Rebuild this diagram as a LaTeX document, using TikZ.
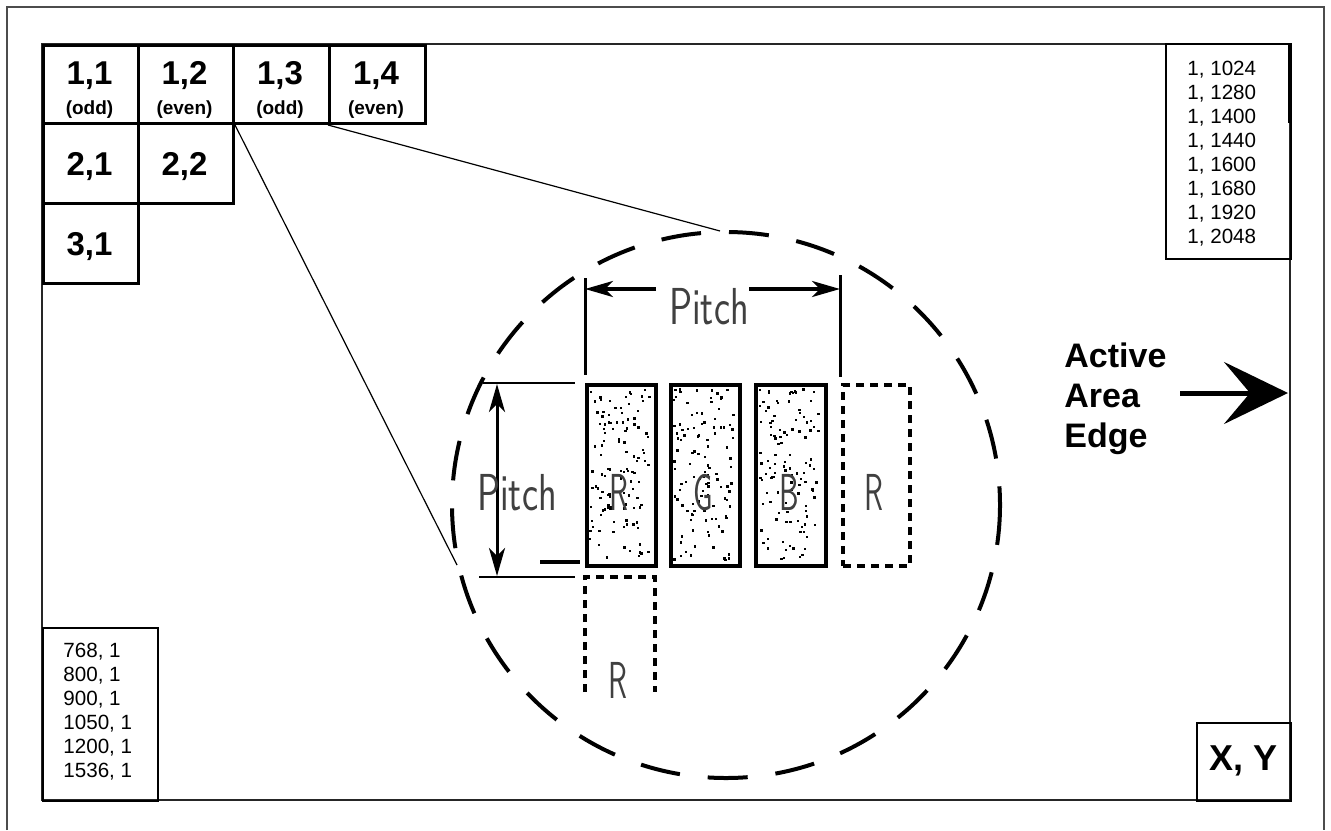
\documentclass[tikz,border=0pt]{standalone}
\usepackage{fontspec}
\setmainfont{Liberation Sans}
\usepackage{graphicx}
\usetikzlibrary{arrows.meta}
\newcommand\cadtxt[1]{\scalebox{0.74}[1]{#1}}
\newcommand\cadltr[1]{\scalebox{0.6}[1]{#1}}
\begin{document}
\begin{tikzpicture}[x=0.5pt,y=-0.5pt,
  frame/.style={draw=black!70, line width=0.6pt},
  active/.style={draw=black!85, line width=0.8pt},
  cellbox/.style={draw, line width=1.5pt, inner sep=0pt, anchor=north west},
  celltxt/.style={font=\bfseries\fontsize{16.5}{18}\selectfont, inner sep=0pt, anchor=base},
  subtxt/.style={font=\bfseries\fontsize{9.5}{11}\selectfont, inner sep=0pt, anchor=base},
  listtxt/.style={font=\fontsize{10.3}{12}\selectfont, align=left, inner sep=0pt, anchor=north west},
  edgetxt/.style={font=\bfseries\fontsize{17}{20}\selectfont, align=left, inner sep=0pt, anchor=north west},
  cad/.style={font=\sffamily\fontsize{26}{28}\selectfont, inner sep=0pt, anchor=base, text=black!75},
  subpix/.style={draw, line width=2pt},
  subdash/.style={draw, line width=2pt, dash pattern=on 4pt off 3pt},
  dimtip/.style={-{Stealth[length=14pt,width=8pt,inset=4pt]}},
  ext/.style={line width=1.5pt},
  zoomcircle/.style={draw, line width=2pt, dash pattern=on 20pt off 14pt},
  leader/.style={line width=0.6pt}
]
\useasboundingbox (0,0) rectangle (1331,830);

% frames
\draw[frame] (7,830) -- (7,7) -- (1324,7) -- (1324,830);
\draw[active] (42,44) rectangle (1290,800);

% pixel cells
\node[cellbox, minimum width=47.5pt, minimum height=39pt] (c11) at (42,44) {};
\node[cellbox, minimum width=47.5pt, minimum height=39pt] (c12) at (137,44) {};
\node[cellbox, minimum width=48pt, minimum height=39pt] (c13) at (232,44) {};
\node[cellbox, minimum width=48pt, minimum height=39pt] (c14) at (328,44) {};
\node[cellbox, minimum width=47.5pt, minimum height=40pt] (c21) at (42,122) {};
\node[cellbox, minimum width=47.5pt, minimum height=40pt] (c22) at (137,122) {};
\node[cellbox, minimum width=47.5pt, minimum height=40pt] (c31) at (42,202) {};

\node[celltxt] (t11) at (89.5,84) {1,1};
\node[celltxt] (t12) at (184.5,84) {1,2};
\node[celltxt] (t13) at (280,84) {1,3};
\node[celltxt] (t14) at (376,84) {1,4};
\node[subtxt] (s11) at (89.5,114) {(odd)};
\node[subtxt] (s12) at (184.5,114) {(even)};
\node[subtxt] (s13) at (280,114) {(odd)};
\node[subtxt] (s14) at (376,114) {(even)};
\node[celltxt] (t21) at (89.5,175) {2,1};
\node[celltxt] (t22) at (184.5,175) {2,2};
\node[celltxt] (t31) at (89.5,255) {3,1};

% resolution lists
\node[draw, line width=1pt, minimum width=62.5pt, minimum height=107.5pt, anchor=north west, inner sep=0pt] (tr) at (1165,43) {};
\draw[line width=2pt] (1290,43) -- (1290,123);
\node[listtxt] (trl) at (1187,61) {1, 1024\\1, 1280\\1, 1400\\1, 1440\\1, 1600\\1, 1680\\1, 1920\\1, 2048};

\node[draw, line width=1.2pt, minimum width=57.5pt, minimum height=86.5pt, anchor=north west, inner sep=0pt] (bl) at (42,627) {};
\node[listtxt] (bll) at (63,643) {768, 1\\800, 1\\900, 1\\1050, 1\\1200, 1\\1536, 1};

\node[draw, line width=1.2pt, minimum width=47pt, minimum height=39pt, anchor=north west, inner sep=0pt] (xy) at (1196,722) {};
\node[font=\bfseries\fontsize{18}{20}\selectfont, inner sep=0pt, anchor=base] (xyt) at (1243,770) {X, Y};

% active area edge
\node[edgetxt] (aae) at (1064,342) {Active\\Area\\Edge};
\coordinate (arrS) at (1180,393);
\coordinate (arrE) at (1288,393);
\draw[line width=2.5pt, -{Stealth[length=32pt,width=31pt,inset=13pt]}] (arrS) -- (arrE);

% zoom circle and leaders
\draw[zoomcircle] (726,505) ellipse [x radius=274, y radius=273];
\coordinate (circL) at (457,565);
\coordinate (circT) at (720,231);
\draw[leader] (c12.south east) -- (circL);
\draw[leader] (c14.south west) -- (circT);

% subpixel stipple
\pgfmathsetseed{11}
\foreach \bx in {585,669,754}{
  \foreach \k in {1,...,115}{
    \pgfmathsetmacro\px{\bx+4+rnd*60}
    \pgfmathsetmacro\py{388+rnd*171}
    \fill (\px,\py) rectangle ++(2.4,2.4);
  }
}
% subpixels
\node[subpix, minimum width=34.5pt, minimum height=90.5pt, anchor=north west, inner sep=0pt] (pR) at (585,383) {};
\node[subpix, minimum width=34.5pt, minimum height=90.5pt, anchor=north west, inner sep=0pt] (pG) at (669,383) {};
\node[subpix, minimum width=35pt, minimum height=90.5pt, anchor=north west, inner sep=0pt] (pB) at (754,383) {};
\node[subdash, minimum width=33.5pt, minimum height=90.5pt, anchor=north west, inner sep=0pt] (pR2) at (841,383) {};
\draw[subdash] (585,692) -- (585,577) -- (655,577) -- (655,692);

\node[cad] (lR) at (619,510) {\cadltr{R}};
\node[cad] (lG) at (703,510) {\cadltr{G}};
\node[cad] (lB) at (789,510) {\cadltr{B}};
\node[cad] (lR2) at (874,510) {\cadltr{R}};
\node[cad] (lR3) at (618,698) {\cadltr{R}};

% pitch dimensions
\coordinate (hL) at (585,289);
\coordinate (hR) at (840,289);
\draw[ext] (585,278) -- (585,375);
\draw[ext] (840,275) -- (840,377);
\draw[line width=2pt, dimtip] (656,289) -- (hL);
\draw[line width=2pt, dimtip] (749,289) -- (hR);
\node[cad] (pitchT) at (709,324) {\cadtxt{Pitch}};

\draw[line width=1.2pt] (483,383) -- (575,383);
\draw[line width=0.9pt] (479,577) -- (575,577);
\draw[line width=2pt] (540,562) -- (580,562);
\coordinate (vT) at (497,384);
\coordinate (vB) at (497,576);
\draw[line width=1.5pt, {Stealth[length=14pt,width=8pt,inset=4pt]}-{Stealth[length=14pt,width=8pt,inset=4pt]}] (vT) -- (vB);
\node[cad] (pitchL) at (517,510) {\cadtxt{Pitch}};
\end{tikzpicture}
\end{document}
